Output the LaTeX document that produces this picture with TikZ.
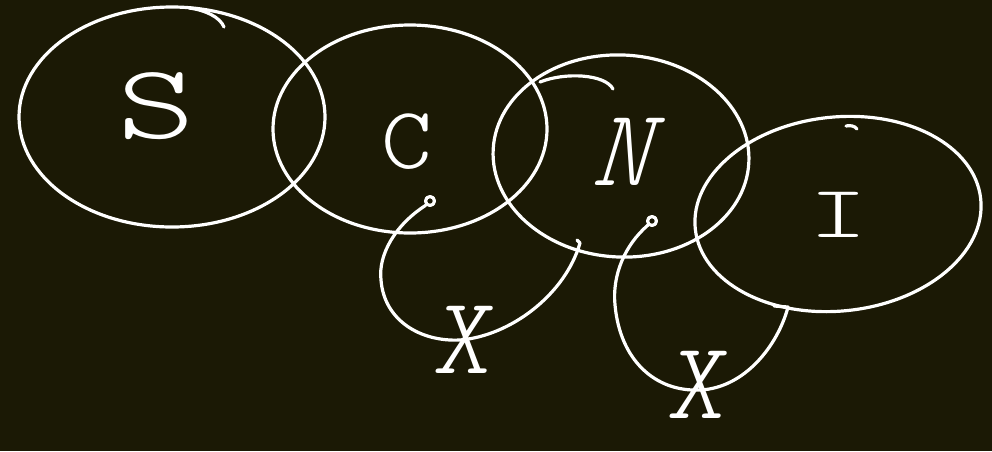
\documentclass[tikz,border=0pt]{standalone}
\usepackage{fontspec}
\usetikzlibrary{shapes.geometric}
\newfontfamily\sketchfont{Latin Modern Mono Light}
\definecolor{board}{RGB}{27,25,5}
\tikzset{
  chalk/.style={draw=white, line width=3.2pt, line cap=round, line join=round},
  blob/.style={chalk, ellipse, inner sep=0pt},
  letter/.style={text=white, inner sep=0pt},
}
\begin{document}
\begin{tikzpicture}[x=1pt, y=-1pt]
\fill[board] (0,0) rectangle (992,451);
\useasboundingbox (0,0) rectangle (992,451);
% the four sets
\foreach \n/\x/\y/\w/\h/\r in {sEll/172/117/306/220/0, cEll/410/129/274/208/0,
    nEll/621/156/256/202/-3, iEll/838/214/287/194/6}
  \node[blob, minimum width=\w pt, minimum height=\h pt, rotate=\r] (\n) at (\x,\y) {};
% pen overshoots
\draw[chalk] (189,8) .. controls (205,10) and (220,17) .. (224,27);
\draw[chalk] (540,82) .. controls (565,72) and (605,74) .. (613,89);
\draw[chalk] (846,126) .. controls (850,125) and (855,126) .. (857,129);
% labels
\node[letter, font=\sketchfont\fontsize{106}{106}\selectfont, xscale=1.4] (sLab) at (156,106) {S};
\node[letter, font=\sketchfont\fontsize{88}{88}\selectfont, xscale=1.1] (cLab) at (407,142) {C};
\node[letter, font=\sketchfont\fontsize{110}{110}\selectfont, xslant=0.3] (nLab) at (630,152) {N};
\node[letter, font=\sketchfont\fontsize{74}{74}\selectfont, xscale=1.5] (iLab) at (839,215) {I};
\node[letter, font=\sketchfont\fontsize{110}{110}\selectfont, xslant=0.15] (xLabA) at (466,340) {X};
\node[letter, font=\sketchfont\fontsize{110}{110}\selectfont, xslant=0.15] (xLabB) at (700,385) {X};
% loops
\node[chalk, circle, minimum size=9pt, inner sep=0pt] (cDot) at (430,201) {};
\coordinate (cHook) at (580,243);
\draw[chalk] (cDot.south west) .. controls (395,225) and (378,255) .. (381,280)
  .. controls (384,320) and (420,342) .. (460,340)
  .. controls (510,336) and (565,295) .. (cHook) -- ++(-3,-3);
\node[chalk, circle, minimum size=9pt, inner sep=0pt] (nDot) at (652,221) {};
\coordinate (nHook) at (788,307);
\draw[chalk] (nDot.south west) .. controls (625,245) and (612,275) .. (615,305)
  .. controls (620,360) and (655,392) .. (700,390)
  .. controls (745,388) and (778,345) .. (nHook) -- ++(-14,-1);
\end{tikzpicture}
\end{document}
